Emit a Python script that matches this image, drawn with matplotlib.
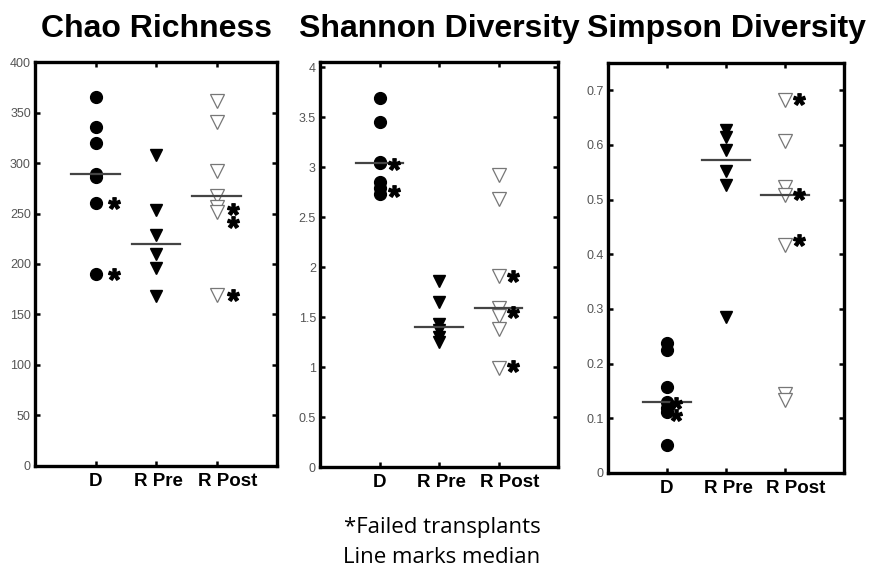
import numpy as np
import matplotlib
matplotlib.use("Agg")
import matplotlib.pyplot as plt

plt.rcParams['font.family'] = ['Liberation Sans', 'DejaVu Sans']
plt.rcParams['mathtext.fontset'] = 'custom'
plt.rcParams['mathtext.bf'] = 'Liberation Sans:bold'
plt.rcParams['mathtext.rm'] = 'Liberation Sans'

groups = ["D", "R Pre", "R Post"]
titles = ["Chao Richness", "Shannon Diversity", "Simpson Diversity"]

# Chao richness
chao_d = [365, 336, 320, 289.5, 286, 260, 190]
chao_pre = [308, 253, 229, 210, 196, 168]
chao_post = [361, 341, 292, 267, 256, 251, 169]
chao_stars = [[260, 190], [], [254, 242, 169]]

# Shannon diversity
shan_d = [3.69, 3.45, 3.05, 3.04, 2.85, 2.79, 2.73]
shan_pre = [1.86, 1.65, 1.43, 1.37, 1.30, 1.25]
shan_post = [2.92, 2.68, 1.91, 1.59, 1.51, 1.38, 0.99]
shan_stars = [[3.03, 2.76], [], [1.91, 1.55, 1.01]]

# Simpson diversity
simp_d = [0.237, 0.225, 0.158, 0.130, 0.118, 0.112, 0.051]
simp_pre = [0.628, 0.615, 0.591, 0.553, 0.527, 0.286]
simp_post = [0.683, 0.607, 0.524, 0.509, 0.417, 0.145, 0.133]
simp_stars = [[0.128, 0.106], [], [0.685, 0.51, 0.426]]

yticks = [np.arange(0, 401, 50), np.arange(0, 4.01, 0.5), np.arange(0, 0.71, 0.1)]
ytick_labels = [[str(int(t)) for t in yticks[0]],
                ["0", "0.5", "1", "1.5", "2", "2.5", "3", "3.5", "4"],
                ["0", "0.1", "0.2", "0.3", "0.4", "0.5", "0.6", "0.7"]]
ylims = [(0, 400), (0, 4.05), (0, 0.75)]

panels = [(chao_d, chao_pre, chao_post, chao_stars),
          (shan_d, shan_pre, shan_post, shan_stars),
          (simp_d, simp_pre, simp_post, simp_stars)]

# axes boxes in figure fraction [left, bottom, width, height]
boxes = [[0.0401, 0.1825, 0.2772, 0.7087],
         [0.3666, 0.1807, 0.2726, 0.7105],
         [0.6964, 0.1702, 0.2703, 0.7193]]
# horizontal offset of the asterisks, per panel and group
star_dx = [[0.30, 0, 0.27], [0.25, 0, 0.24], [0.16, 0, 0.24]]
# category labels sit a little right of their ticks in the original (points)
label_shift = [0, 2, 8]

fig = plt.figure(figsize=(8.73, 5.70), dpi=100)

for i, (d, pre, post, stars) in enumerate(panels):
    ax = fig.add_axes(boxes[i])
    ax.plot([1] * len(d), d, 'o', color='black', ms=8.5, zorder=3)
    ax.plot([2] * len(pre), pre, 'v', color='black', ms=8.5, zorder=3)
    ax.plot([3] * len(post), post, 'v', mfc='white', mec='#777777',
            mew=0.9, ms=10, zorder=3)

    for x, vals in zip([1, 2, 3], [d, pre, post]):
        m = np.median(vals)
        ax.plot([x - 0.4, x + 0.4], [m, m], color='#444444', lw=1.6,
                zorder=4)

    for g, ys in enumerate(stars):
        for y in ys:
            ax.plot(g + 1 + star_dx[i][g], y, marker=r'$\mathbf{*}$',
                    color='black', ms=8.5, zorder=5)

    ax.set_xlim(0, 4)
    ax.set_ylim(*ylims[i])
    ax.set_xticks([1, 2, 3])
    ax.set_xticklabels([])
    for g, name in enumerate(groups):
        ax.annotate(name, xy=(g + 1, 0), xycoords=('data', 'axes fraction'),
                    xytext=(label_shift[g], -5), textcoords='offset points',
                    ha='center', va='top', fontsize=13.5, fontweight='bold')
    ax.set_yticks(yticks[i])
    ax.set_yticklabels(ytick_labels[i], fontsize=9, color='#555555')
    ax.tick_params(direction='in', length=3.5, width=1.8, top=True,
                   right=True, pad=3)
    for sp in ax.spines.values():
        sp.set_linewidth(2.4)

    fig.text(boxes[i][0] + boxes[i][2] / 2, 1 - 37 / 570, titles[i],
             ha='center', va='baseline', fontsize=23, fontweight='bold')

fig.text(442 / 873, 1 - 533 / 570, "*Failed transplants", ha='center',
         va='baseline', fontsize=16, family=['Open Sans', 'DejaVu Sans'])
fig.text(442 / 873, 1 - 563 / 570, "Line marks median", ha='center',
         va='baseline', fontsize=16, family=['Open Sans', 'DejaVu Sans'])

fig.savefig("out.png", dpi=100)
